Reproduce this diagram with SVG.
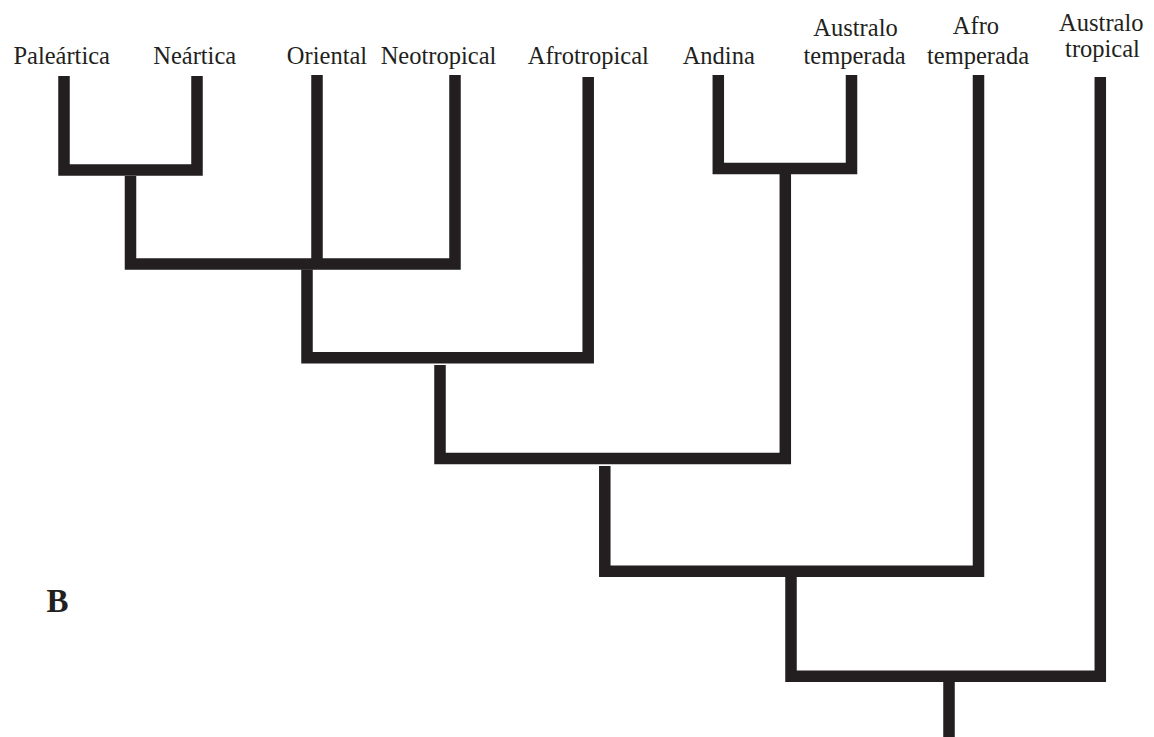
<svg xmlns="http://www.w3.org/2000/svg" width="1154" height="737" viewBox="0 0 1154 737">
  <style>
    .lbl { font-family: "Liberation Serif", "Times New Roman", serif; font-size: 24.5px; fill: #231f20; text-anchor: middle; }
    .panel { font-family: "Liberation Serif", "Times New Roman", serif; font-size: 33px; font-weight: bold; fill: #231f20; }
    .br { fill: none; stroke: #231f20; stroke-width: 11.5; stroke-linejoin: miter; stroke-linecap: butt; }
  </style>
  <rect width="1154" height="737" fill="#ffffff"/>

  <!-- terminal taxa -->
  <g id="paleartica"><text class="lbl" x="61.7" y="63.5">Paleártica</text></g>
  <g id="neartica"><text class="lbl" x="194.7" y="63.5">Neártica</text></g>
  <g id="oriental"><text class="lbl" x="327" y="63.5">Oriental</text></g>
  <g id="neotropical"><text class="lbl" x="438.5" y="63.5">Neotropical</text></g>
  <g id="afrotropical"><text class="lbl" x="588.3" y="63.5">Afrotropical</text></g>
  <g id="andina"><text class="lbl" x="718.7" y="63.5">Andina</text></g>
  <g id="australo-temperada">
    <text class="lbl" x="855.5" y="36">Australo</text>
    <text class="lbl" x="854.5" y="63.5">temperada</text>
  </g>
  <g id="afro-temperada">
    <text class="lbl" x="976" y="33.5">Afro</text>
    <text class="lbl" x="978" y="63.5">temperada</text>
  </g>
  <g id="australo-tropical">
    <text class="lbl" x="1101.3" y="31">Australo</text>
    <text class="lbl" x="1102.5" y="57">tropical</text>
  </g>

  <!-- panel letter -->
  <g id="panel-b"><text class="panel" x="46.5" y="612">B</text></g>

  <!-- cladogram branches -->
  <g id="branches">
    <path class="br" d="M64 76 V170 H197 V76"/>
    <path class="br" d="M130.5 176 V264 H455 V75"/>
    <path class="br" d="M317 75 V264"/>
    <path class="br" d="M307 269.5 V357.8 H588.2 V77"/>
    <path class="br" d="M718.3 75 V168.5 H851.5 V75"/>
    <path class="br" d="M440 365 V458.5 H785.3 V174"/>
    <path class="br" d="M604.8 466 V571.2 H978.5 V75"/>
    <path class="br" d="M791 577 V676.3 H1100.3 V77"/>
    <path class="br" d="M949 682 V737"/>
  </g>
</svg>
